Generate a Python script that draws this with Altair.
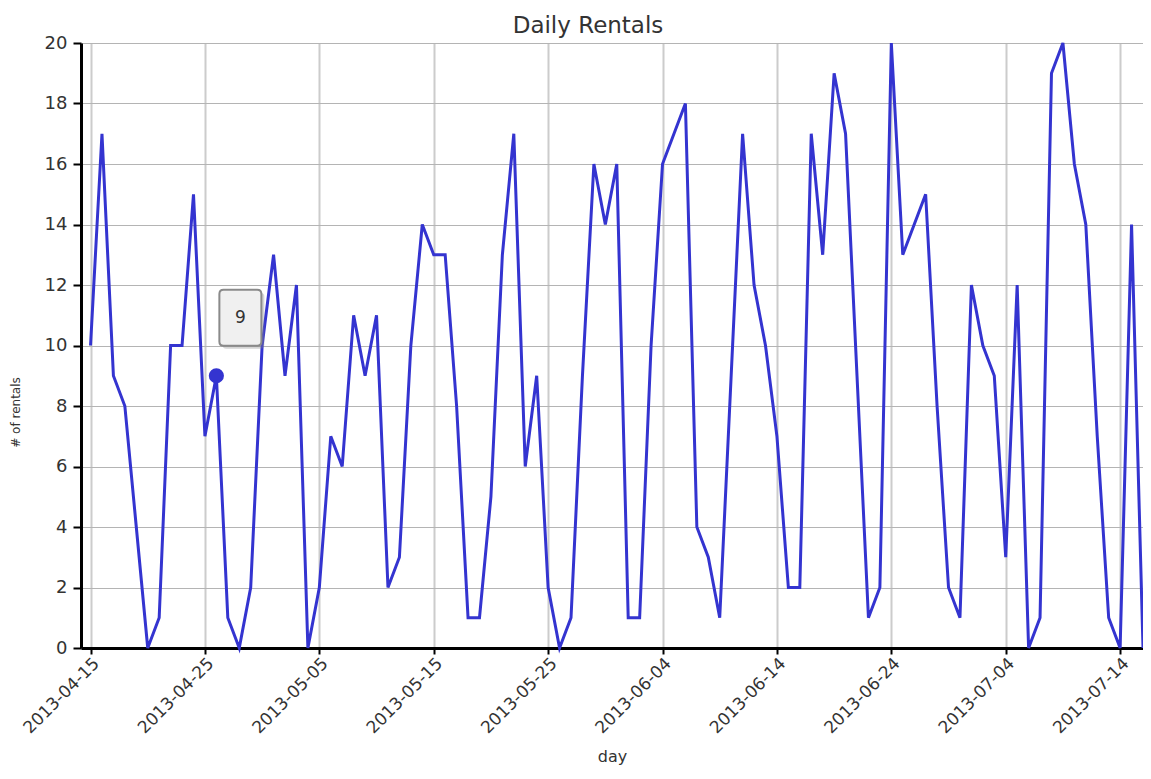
import altair as alt
import pandas as pd

start_day = "2013-04-15"
rentals = [10, 17, 9, 8, 4, 0, 1, 10, 10, 15,
           7, 9, 1, 0, 2, 10, 13, 9, 12, 0,
           2, 7, 6, 11, 9, 11, 2, 3, 10, 14,
           13, 13, 8, 1, 1, 5, 13, 17, 6, 9,
           2, 0, 1, 9, 16, 14, 16, 1, 1, 10,
           16, 17, 18, 4, 3, 1, 9, 17, 12, 10,
           7, 2, 2, 17, 13, 19, 17, 9, 1, 2,
           20, 13, 14, 15, 8, 2, 1, 12, 10, 9,
           3, 12, 0, 1, 19, 20, 16, 14, 7, 1,
           0, 14, 0]
tick_days = ["2013-04-15", "2013-04-25", "2013-05-05", "2013-05-15", "2013-05-25",
             "2013-06-04", "2013-06-14", "2013-06-24", "2013-07-04", "2013-07-14"]
y_ticks = [0, 2, 4, 6, 8, 10, 12, 14, 16, 18, 20]
highlight_index = 11

days = pd.date_range(start_day, periods=len(rentals), freq="D").strftime("%Y-%m-%d").tolist()
df = pd.DataFrame({"day": days, "rentals": rentals})
hl = df.iloc[[highlight_index]].copy()
hl["label"] = hl["rentals"].astype(str)

FONT = "DejaVu Sans"
BLUE = "#3434d0"


def dt(s, hours=0):
    y, m, d = [int(p) for p in s.split("-")]
    return alt.DateTime(year=y, month=m, date=d, hours=hours, utc=True)


x_scale = alt.Scale(type="utc", domain=[dt("2013-04-14", 4), dt("2013-07-16")])
y_scale = alt.Scale(domain=[0, 20], nice=False)

x_enc = alt.X(
    "day:T",
    scale=x_scale,
    title="day",
    axis=alt.Axis(
        values=[dt(s) for s in tick_days],
        format="%Y-%m-%d",
        labelAngle=315,
        labelAlign="right",
        labelBaseline="top",
        labelFontSize=17,
        labelColor="#333333",
        labelFont=FONT,
        labelPadding=1,
        titleFont=FONT,
        titleFontSize=16,
        titleFontWeight="normal",
        titleColor="#333333",
        titlePadding=12,
        domainColor="#000000",
        domainWidth=3,
        tickColor="#000000",
        tickWidth=2,
        tickSize=6,
        gridColor="#cccccc",
        gridWidth=2,
    ),
)
y_enc = alt.Y(
    "rentals:Q",
    scale=y_scale,
    title="# of rentals",
    axis=alt.Axis(
        values=y_ticks,
        labelFontSize=18,
        labelColor="#333333",
        labelFont=FONT,
        labelPadding=6,
        titleFont=FONT,
        titleFontSize=12,
        titleFontWeight="normal",
        titleColor="#333333",
        titleX=-59,
        titleY=369,
        domainColor="#000000",
        domainWidth=3,
        tickColor="#000000",
        tickWidth=2,
        tickSize=8,
        gridColor="#b4b4b4",
        gridWidth=1,
    ),
)

line = alt.Chart(df).mark_line(color=BLUE, strokeWidth=3, strokeJoin="miter").encode(x=x_enc, y=y_enc)

dot = alt.Chart(hl).mark_point(filled=True, shape="circle", size=230, color=BLUE, opacity=1).encode(
    x=alt.X("day:T", scale=x_scale), y=alt.Y("rentals:Q", scale=y_scale)
)

box_path = ("M-0.6,-1 L0.6,-1 Q0.75,-1 0.75,-0.85 L0.75,0.85 Q0.75,1 0.6,1 "
            "L-0.6,1 Q-0.75,1 -0.75,0.85 L-0.75,-0.85 Q-0.75,-1 -0.6,-1 Z")

shadow = alt.Chart(hl).mark_point(
    shape=box_path, size=3136, filled=True, fill="#888888", opacity=0.35,
    strokeWidth=0, xOffset=27, yOffset=-55,
).encode(x=alt.X("day:T", scale=x_scale), y=alt.Y("rentals:Q", scale=y_scale))

box = alt.Chart(hl).mark_point(
    shape=box_path, size=3136, filled=True, fill="#f0f0f0", stroke="#8a8a8a",
    strokeWidth=2, opacity=1, xOffset=24, yOffset=-58,
).encode(x=alt.X("day:T", scale=x_scale), y=alt.Y("rentals:Q", scale=y_scale))

label = alt.Chart(hl).mark_text(
    font=FONT, fontSize=17, color="#333333", dx=24, dy=-58, align="center", baseline="middle"
).encode(x=alt.X("day:T", scale=x_scale), y=alt.Y("rentals:Q", scale=y_scale), text="label:N")

chart = (
    alt.layer(line, dot, shadow, box, label)
    .properties(
        width=1062,
        height=605,
        title=alt.TitleParams(
            "Daily Rentals", font=FONT, fontSize=23, fontWeight="normal",
            color="#333333", anchor="middle", dx=-24, offset=-4,
        ),
        autosize=alt.AutoSizeParams(type="none"),
        padding={"left": 73, "top": 35, "right": 0, "bottom": 123},
        background="white",
    )
    .configure_view(stroke=None)
)

chart.save("out.html", embed_options={"renderer": "svg", "actions": False})
